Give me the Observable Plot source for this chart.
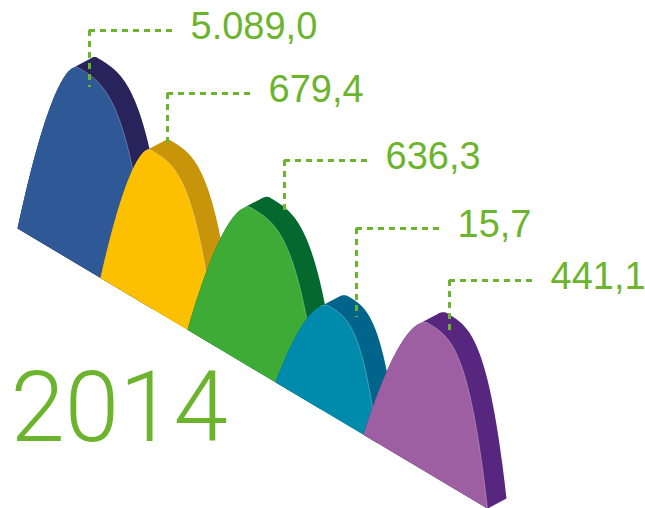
<!DOCTYPE html>
<html><head><meta charset="utf-8">
<script src="https://cdn.jsdelivr.net/npm/d3@7"></script>
<script src="https://cdn.jsdelivr.net/npm/@observablehq/plot@0.6"></script>
<style>html,body{margin:0;padding:0;background:#fff}#chart svg{display:block}</style>
</head><body><div id="chart"></div>
<script>
// ---- data ----
const labels = ["5.089,0", "679,4", "636,3", "15,7", "441,1"];
const values = [5089.0, 679.4, 636.3, 15.7, 441.1];
const year = "2014";

// ---- styles ----
const frontColors = ["#2f5896", "#fcc000", "#3dab35", "#008bad", "#9d5fa2"];
const sideColors  = ["#29235c", "#c8940a", "#03692f", "#01648a", "#57267f"];
const green = "#6cb42d";

// ---- layout (pixels) ----
const hillLeft   = [17, 100, 187, 275, 363];
const hillPeak   = [77, 150, 250, 328, 427];
const hillRight  = [153, 216, 320, 377, 487];
const hillHeight = [197, 158, 160, 108, 150];
const leaderX    = [89, 167, 284, 356, 449];
const leaderY    = [30, 93, 160, 228, 280];
const leaderTip  = [87, 147, 215, 317, 335];
const leaderLen = 88, labelGap = 101;
const depth = [19, -10];
const pL = 1.6, pR = 3.3;
const baseY = x => 228 + 0.596 * (x - 17);

function hgt(i, x) {
  const xl = hillLeft[i], xp = hillPeak[i], xr = hillRight[i], H = hillHeight[i];
  if (x <= xp) return H * (1 - Math.pow(Math.max(0, (xp - x) / (xp - xl)), pL));
  return H * (1 - Math.pow(Math.max(0, (x - xp) / (xr - xp)), pR));
}

const fronts = values.map((v, i) => {
  const xl = hillLeft[i], xr = hillRight[i], n = 200;
  return d3.range(n + 1).map(k => {
    const x = xl + (xr - xl) * k / n;
    return [x, baseY(x) - hgt(i, x)];
  });
});
const sides = fronts.map(pts =>
  d3.polygonHull(pts.concat(pts.map(([x, y]) => [x + depth[0], y + depth[1]])))
);
const highlights = fronts.map((pts, i) => pts.filter(([x]) => x >= hillPeak[i] - 8));

const toObj = pts => pts.map(([x, y]) => ({x, y}));

const leaders = labels.map((t, i) => ({
  label: t, value: values[i], lx: leaderX[i], ly: leaderY[i], tip: leaderTip[i]
}));

const marks = [];
values.forEach((v, i) => {
  marks.push(Plot.line(toObj(sides[i]), {x: "x", y: "y", fill: sideColors[i], stroke: "none", curve: "linear-closed"}));
  marks.push(Plot.line(toObj(fronts[i]), {x: "x", y: "y", fill: frontColors[i], stroke: "none", curve: "linear-closed"}));
  marks.push(Plot.line(toObj(highlights[i]), {x: "x", y: "y", stroke: "#ffffff", strokeOpacity: 0.35, strokeWidth: 0.8}));
});
marks.push(
  Plot.ruleX(leaders, {x: "lx", y1: "ly", y2: "tip", stroke: green, strokeWidth: 3, strokeDasharray: "6,5"}),
  Plot.ruleY(leaders, {y: "ly", x1: "lx", x2: d => d.lx + leaderLen, stroke: green, strokeWidth: 3, strokeDasharray: "6,5"}),
  Plot.text(leaders, {x: d => d.lx + labelGap, y: d => d.ly - 3.5, text: "label", textAnchor: "start", lineAnchor: "middle",
    fill: green, fontSize: 38, fontFamily: "Liberation Sans, Arial, sans-serif"}),
  Plot.text([year], {x: 10, y: 440, text: d => d, textAnchor: "start", lineAnchor: "bottom",
    fill: green, fontSize: 98, fontWeight: 300, fontFamily: "Roboto, Lato, sans-serif"})
);

const chart = Plot.plot({
  width: 645, height: 508, margin: 0,
  x: {domain: [0, 645], range: [0, 645], axis: null},
  y: {domain: [0, 508], range: [0, 508], axis: null},
  style: {background: "#fff"},
  marks
});
document.getElementById("chart").appendChild(chart);
</script>
</body></html>
